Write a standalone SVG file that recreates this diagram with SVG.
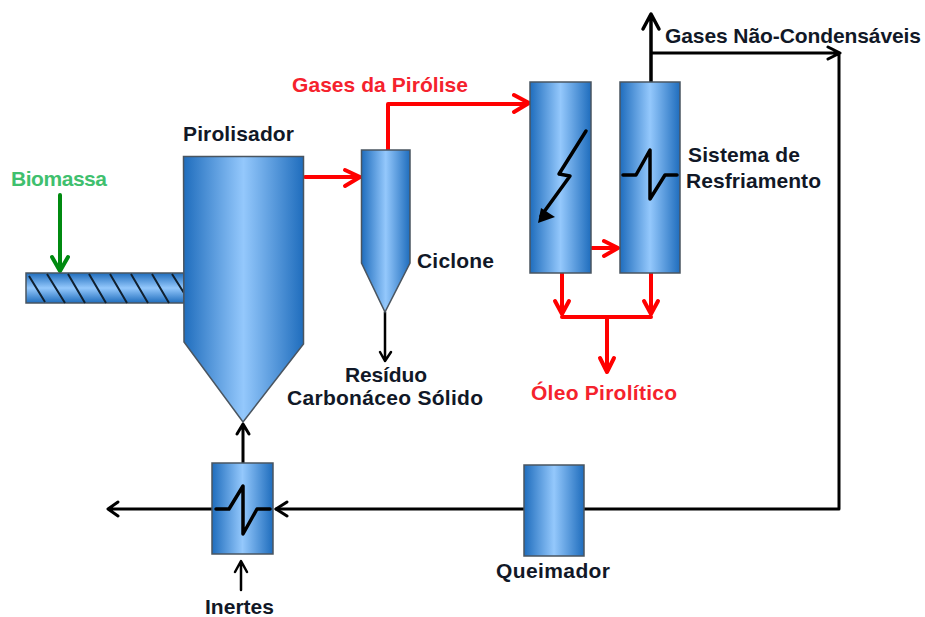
<svg xmlns="http://www.w3.org/2000/svg" width="925" height="617" viewBox="0 0 925 617">
<style>
text{font-family:"Liberation Sans",Arial,sans-serif;font-weight:bold;font-size:21px;fill:#111827}
.r{fill:#f5222d}
.g{fill:#3fc06e}
.eq{stroke:#4a5560;stroke-width:1.5;fill:url(#h)}
.k{fill:none;stroke:#000;stroke-linecap:round;stroke-linejoin:round}
.red{fill:none;stroke:#f00;stroke-width:4;stroke-linecap:round;stroke-linejoin:round}
.grn{fill:none;stroke:#008a10;stroke-width:4;stroke-linecap:round;stroke-linejoin:round}
</style>
<defs>
<linearGradient id="h" x1="0" y1="0" x2="1" y2="0">
<stop offset="0" stop-color="#1f6dbd"/><stop offset=".5" stop-color="#94c8fc"/><stop offset="1" stop-color="#1f6dbd"/>
</linearGradient>
<linearGradient id="v" x1="0" y1="0" x2="0" y2="1">
<stop offset="0" stop-color="#1f6dbd"/><stop offset=".5" stop-color="#94c8fc"/><stop offset="1" stop-color="#1f6dbd"/>
</linearGradient>
</defs>
<rect width="925" height="617" fill="#fff"/>

<g id="connectors">
<path class="k" stroke-width="3.5" d="M651 82V15M643 29L651 14L659 29"/>
<path class="k" stroke-width="3" d="M652 53H839V509H276M828 47L840 53L828 59"/>
<path class="k" stroke-width="3" d="M287 502L276 509L287 516"/>
<path class="k" stroke-width="3" d="M212 509H109M118 502L108 509L118 516"/>
<path class="k" stroke-width="3" d="M243 463V424M237 434L243 424L249 434"/>
<path class="k" stroke-width="2.500" d="M241 590V562M235 572L241 561L247 572"/>
<path class="k" stroke-width="2.500" d="M385 312V361M380 352L385 361L391 352"/>
<path class="grn" d="M60 195V270M52 257L60 271L68 257"/>
<path class="red" d="M305 177H358M345 170L360 177L345 186"/>
<path class="red" d="M388 150V104H527M514 95L529 103L514 112"/>
<path class="red" d="M592 248H617M604 241L618 248L604 256"/>
<path class="red" d="M562 273V313M555 301L562 314L569 301"/>
<path class="red" d="M651 273V313M644 301L651 314L658 301"/>
<path class="red" d="M562 317H651M607 317V371M600 358L607 372L614 358"/>
</g>

<g id="screw">
<rect x="26" y="273" width="158" height="30" fill="url(#v)" stroke="#4a5560" stroke-width="1.500"/>
<path fill="none" stroke="#10202f" stroke-width="2" d="M29 276L45 302M47 274L65 303M68 274L85 303M89 274L106 303M110 274L127 303M131 274L148 303M152 274L169 303M172 274L184 293"/>
</g>
<g id="pirolisador">
<path class="eq" d="M183.500 156.500H303.500V344L243 422L184 342Z"/>
<text x="183" y="141" textLength="111">Pirolisador</text>
</g>
<g id="ciclone">
<path class="eq" d="M361.500 150H410V263L385 312L361.500 263Z"/>
<text x="417" y="268" textLength="77">Ciclone</text>
</g>
<g id="condensador">
<rect class="eq" x="530" y="82" width="61" height="191"/>
<path class="k" stroke-width="3.500" d="M586 131L559 174L570 176L541 216"/>
<path d="M538 223L541 208L555 217Z" fill="#000"/>
</g>
<g id="resfriamento">
<rect class="eq" x="620" y="82" width="60" height="191"/>
<path class="k" stroke-width="3.500" d="M623 175H636L650 150V199L665 175H677"/>
<text x="688" y="162" textLength="112">Sistema de</text>
<text x="686" y="188" textLength="135">Resfriamento</text>
</g>
<g id="trocador">
<rect class="eq" x="212" y="463" width="61" height="91"/>
<path class="k" stroke-width="3.500" d="M216 509H229L243 486V534L257 509H270"/>
</g>
<g id="queimador">
<rect class="eq" x="524" y="465" width="60" height="91"/>
<text x="496" y="578" textLength="114">Queimador</text>
</g>
<text x="11" y="186" class="g" textLength="96">Biomassa</text>
<text x="292" y="92" class="r" textLength="176">Gases da Pirólise</text>
<text x="665" y="43" textLength="256">Gases Não-Condensáveis</text>
<text x="345" y="382" textLength="82">Resíduo</text>
<text x="287" y="405" textLength="196">Carbonáceo Sólido</text>
<text x="531" y="400" class="r" textLength="146">Óleo Pirolítico</text>
<text x="205" y="614" textLength="69">Inertes</text>
</svg>
